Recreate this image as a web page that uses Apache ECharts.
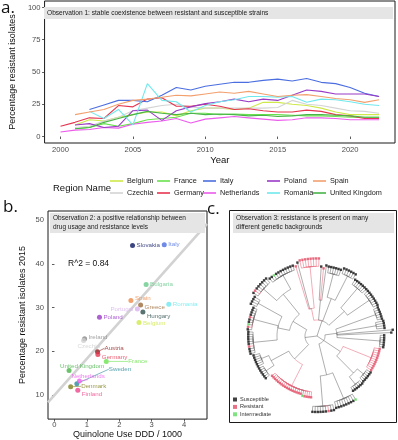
<!DOCTYPE html>
<html>
<head>
<meta charset="utf-8">
<script src="https://cdn.jsdelivr.net/npm/echarts@6/dist/echarts.min.js"></script>
<style>
  html, body { margin: 0; padding: 0; background: #fff; }
  #chart { width: 398px; height: 440px; }
</style>
</head>
<body>
<div id="chart"></div>
<script>
// ---- panel a: resistance over time ----
const years = [2000, 2001, 2002, 2003, 2004, 2005, 2006, 2007, 2008, 2009, 2010, 2011,
               2012, 2013, 2014, 2015, 2016, 2017, 2018, 2019, 2020, 2021, 2022];
const belgium     = [null, 9, 13, 12, 15, 17, 19, 19, 16, 20, 22, 22, 21, 22, 26.5, 26.5, 25, 24, 22, 19, 17, 17, 17];
const czechia     = [null, 7, 8, 12, 15, 20, 22, 24, 25, 23, 22, 22, 22, 22, 22, 22.5, 28, 25, 24, 22, 20, 19.5, 18];
const france      = [null, 6, 7, 10, 8, 10, 13, 14, 15, 18, 18, 17, 17.5, 17, 17, 17, 16.5, 16, 16, 15.5, 15, 15, 15];
const germany     = [8, 11, 14.5, 14, 24, 23, 29, 30, 23.5, 23.5, 25, 23.5, 21, 21.5, 20, 19, 19, 20.5, 19.5, 17, 16, 14, 14];
const italy       = [null, null, 21, 24.5, 28, 28, 27, 32, 38, 36, 39, 40.5, 42, 42, 43.5, 44.5, 43, 45, 42, 41, 38, 33.5, 31];
const netherlands = [3.5, 5, 5.5, 7, 6.5, 9.5, 11, 12, 14, 10.5, 13.5, 14.5, 15.5, 14.5, 13.5, 12.5, 13, 14.5, 14.5, 14, 13, 13, 13];
const poland      = [null, 9, 10, 7, 8, 20, 20.5, 12.5, 20, 23, 25.5, 27, 29, 27, 29, 28, 32, 36, 35, 33, 33, 33, 31];
const romania     = [null, null, 19.5, 14, 21, 9, 41, 28, 27, 19, 24, 27, 28.5, 31, 31, 30.5, 31, 26.5, 29, 28.5, 27, 25, 24];
const spain       = [null, 17, 19, 21, 25, 28, 29, 30.5, 32, 31.5, 33, 34.5, 33.5, 35, 33, 31, 32, 32.5, 31, 29.5, 28.5, 26.5, 28.5];
const unitedKingdom = [null, 6, 7, 11, 14, 17, 19.5, 18, 17, 18, 17, 17.5, 17, 16, 16.5, 15.5, 16, 17, 17, 16.5, 16, 15, 15];
const regionNames = ['Belgium', 'Czechia', 'France', 'Germany', 'Italy', 'Netherlands', 'Poland', 'Romania', 'Spain', 'United Kingdom'];
const regionValues = [belgium, czechia, france, germany, italy, netherlands, poland, romania, spain, unitedKingdom];
const yearTicks = [2000, 2005, 2010, 2015, 2020];
const pctTicks = [0, 25, 50, 75, 100];

// ---- panel b: usage vs resistance 2015 ----
const countriesB  = ['Slovakia', 'Italy', 'Bulgaria', 'Spain', 'Greece', 'Romania', 'Portugal', 'Hungary', 'Poland', 'Belgium',
                     'Ireland', 'Czechia', 'Austria', 'Germany', 'France', 'United Kingdom', 'Sweden', 'Netherlands', 'Denmark', 'Finland'];
const usageB      = [2.41, 3.39, 2.83, 2.36, 2.66, 3.53, 2.56, 2.73, 1.39, 2.61, 0.93, 0.9, 1.33, 1.34, 1.6, 0.45, 0.69, 0.77, 0.5, 0.72];
const resistanceB = [44.2, 44.4, 35.3, 31.6, 30.6, 30.75, 29.7, 29.0, 27.8, 26.6, 22.9, 22.5, 19.9, 19.3, 17.7, 15.6, 12.6, 13.2, 11.9, 11.1];
const usageTicks = [0, 1, 2, 3, 4];
const resTicks = [10, 20, 30, 40, 50];

// ---- panel c: tree, leaves S = susceptible, R = resistant, I = intermediate ----
const treeNewick =
  '(' +
  '((R:5.6,S:6.0,(RRRRRRRR:1.0):5.2):1.5,(S:4.2,R:4.0,S:4.4):2.5,((SSSSSS:0.8):3.0,(SSSSSS:0.7):3.4):3.0,((SSSSSSS:0.7):3.2,(SSSSSSSS:0.6):3.3):2.6):2.0,' +
  '(((SSSSSS:0.6):5.3,(SSSS:1.0):5.0,S:7.0,S:6.8,(SSSSSS:0.5):5.4):1.5,((RRRRRRRRRRR:0.7):3.8,((SSSSSS:0.6):1.0,(SSSSSS:0.5):1.2):3.0):2.5,((ISSSSSSSS:0.8):3.5,(SSRSSSSSS:0.7):3.8):4.0):1.0,' +
  '(((RRRRI:0.7,RRRRRRRRRRRRRRRRR:0.5):3.0,((SSSSSS:0.6):1.2,(SSSSSS:0.8):1.0):2.5):2.5,(((SSSRSSSSSS:0.6):3.0,(SRISSRSSSS:0.5):3.2,(SSSS:0.8):3.4):1.5,((SRSSSSSS:0.7):2.2,(SSISSSSSSSS:0.6):2.0):3.2):2.0):1.5' +
  ');';
const stateNames = { S: 'Susceptible', R: 'Resistant', I: 'Intermediate' };

// ---- styles ----
const FONT = 'Liberation Sans, Arial, sans-serif';
const regionColors = {
  'Belgium': '#cfe94a', 'Czechia': '#d4d4d4', 'France': '#6ae24e', 'Germany': '#e6354f', 'Italy': '#4b6ee0',
  'Netherlands': '#ec5cec', 'Poland': '#9a3bc6', 'Romania': '#70e9ee', 'Spain': '#f2a06e', 'United Kingdom': '#49b449'
};
const countryColors = {
  'Slovakia': '#0b1763', 'Italy': '#4b6ee0', 'Bulgaria': '#66c98a', 'Spain': '#ee8a48', 'Greece': '#9c6a3a',
  'Romania': '#6ee8ee', 'Portugal': '#d8b2ee', 'Hungary': '#2f4f4f', 'Poland': '#9a3bc6', 'Belgium': '#cfe94a',
  'Ireland': '#8a8a8a', 'Czechia': '#d0d0d0', 'Austria': '#8b1c1c', 'Germany': '#e6354f', 'France': '#6ae24e',
  'United Kingdom': '#49b449', 'Sweden': '#2a8a9a', 'Netherlands': '#ec5cec', 'Denmark': '#7f7f1e', 'Finland': '#ee4488'
};
// label shift [dx, dy] from the default right-side position, plus leader line flag
const labelShift = {
  'Spain': [0, -2], 'Greece': [0, 2.5], 'Portugal': [-31, 0], 'Hungary': [0, 4], 'Belgium': [0, 1],
  'Ireland': [0, -1.5], 'Czechia': [-10, 5.5], 'Austria': [3, -3.5, 1], 'Germany': [0, 3], 'France': [18, 0, 1],
  'United Kingdom': [-13, -4.5], 'Sweden': [28, -14.5, 1], 'Netherlands': [-12, -4.5, 1], 'Denmark': [6.5, -0.5, 1], 'Finland': [0, 4]
};
const stateColors = { S: '#111111', R: '#e44d66', I: '#5fdc5f' };
const EDGE_GRAY = '#6b6b6b';
const EDGE_RED = '#e8687c';

// ---- tree parsing / layout ----
function parseNewick(str) {
  let i = 0;
  function readNodes() {
    let nodes;
    if (str[i] === '(') {
      i++;
      const children = [];
      while (true) {
        children.push(...readNodes());
        if (str[i] === ',') { i++; continue; }
        i++; // ')'
        break;
      }
      nodes = [{ children }];
    } else {
      let run = '';
      while (/[SRI]/.test(str[i])) run += str[i++];
      nodes = run.split('').map(s => ({ state: s }));
    }
    let len = 0;
    if (str[i] === ':') {
      i++;
      let num = '';
      while (/[0-9.]/.test(str[i])) num += str[i++];
      len = parseFloat(num);
    }
    nodes.forEach(n => n.len = len);
    return nodes;
  }
  return readNodes()[0];
}

const root = parseNewick(treeNewick);
function countLeaves(n) { return n.children ? n.children.reduce((s, c) => s + countLeaves(c), 0) : 1; }
const leafCount = countLeaves(root);
const step = 360 / leafCount;
let leafIdx = 0;
const edges = [];
const leaves = { S: [], R: [], I: [] };
function layout(n, parentR) {
  n.r = parentR + n.len;
  if (n.children) {
    n.nLeaf = 0; n.nRes = 0;
    n.children.forEach(c => { layout(c, n.r); n.nLeaf += c.nLeaf; n.nRes += c.nRes; });
    n.angle = (n.children[0].angle + n.children[n.children.length - 1].angle) / 2;
  } else {
    n.angle = (leafIdx + 0.5) * step;
    leafIdx++;
    n.nLeaf = 1; n.nRes = n.state === 'R' ? 1 : 0;
    leaves[n.state].push([n.r, n.angle]);
  }
}
layout(root, 0);
function collect(n, parent) {
  if (parent) edges.push([n.r, n.angle, parent.r, parent.angle, n.nRes / n.nLeaf >= 0.75 ? 1 : 0]);
  if (n.children) n.children.forEach(c => collect(c, n));
}
collect(root, null);

function renderEdge(params, api) {
  const r = api.value(0), a = api.value(1), pr = api.value(2), pa = api.value(3);
  const style = { stroke: api.value(4) ? EDGE_RED : EDGE_GRAY, lineWidth: 0.55, fill: null };
  const pts = [];
  const dir = a >= pa ? 1 : -1;
  for (let t = pa; dir * (a - t) > 0; t += dir * 1) pts.push(api.coord([pr, t]));
  pts.push(api.coord([pr, a]));
  pts.push(api.coord([r, a]));
  return { type: 'polyline', shape: { points: pts }, style };
}

// ---- regression for panel b ----
const n = usageB.length;
const mx = usageB.reduce((s, v) => s + v, 0) / n;
const my = resistanceB.reduce((s, v) => s + v, 0) / n;
let sxy = 0, sxx = 0;
usageB.forEach((x, k) => { sxy += (x - mx) * (resistanceB[k] - my); sxx += (x - mx) * (x - mx); });
const slope = sxy / sxx, intercept = my - slope * mx;
const bXMin = -0.2, bXMax = 4.71;

// ---- build series ----
const series = [];
regionNames.forEach((name, k) => {
  series.push({
    name, type: 'line', xAxisIndex: 0, yAxisIndex: 0,
    data: years.map((y, j) => [y, regionValues[k][j]]),
    showSymbol: false, symbol: 'none',
    lineStyle: { color: regionColors[name], width: 1.1 },
    itemStyle: { color: regionColors[name] },
    animation: false
  });
});
series.push({
  type: 'line', xAxisIndex: 1, yAxisIndex: 1, silent: true, symbol: 'none',
  data: [[bXMin, intercept + slope * bXMin], [bXMax, intercept + slope * bXMax]],
  lineStyle: { color: '#d2d2d2', width: 2.6 }, z: 1, animation: false
});
series.push({
  type: 'scatter', xAxisIndex: 1, yAxisIndex: 1, symbolSize: 5, z: 3, animation: false,
  data: countriesB.map((c, k) => {
    const sh = labelShift[c];
    return {
      name: c, value: [usageB[k], resistanceB[k]],
      itemStyle: { color: countryColors[c] },
      label: { color: countryColors[c] },
      labelLine: { show: !!(sh && sh[2]), lineStyle: { color: countryColors[c], width: 0.6 } }
    };
  }),
  label: { show: true, position: 'right', distance: 1.5, formatter: '{b}', fontSize: 6.2, fontFamily: FONT },
  labelLine: { show: false, length2: 0, smooth: false },
  labelLayout: (p) => {
    const sh = labelShift[countriesB[p.dataIndex]] || [0, 0];
    return { dx: sh[0], dy: sh[1], hideOverlap: false, moveOverlap: false };
  }
});
series.push({
  type: 'custom', coordinateSystem: 'polar', renderItem: renderEdge, data: edges,
  encode: { radius: 0, angle: 1 }, silent: true, clip: false, animation: false, z: 1
});
['S', 'R', 'I'].forEach(s => {
  series.push({
    name: stateNames[s], type: 'scatter', coordinateSystem: 'polar', data: leaves[s],
    symbol: 'rect', symbolSize: 2.4, itemStyle: { color: stateColors[s] }, z: 3, animation: false
  });
});

// ---- legends ----
const legendCols = [110, 157, 203, 267, 313];
const legendRows = [177.5, 189.5];
const legends = regionNames.map((name, k) => ({
  data: [name], left: legendCols[Math.floor(k / 2)], top: legendRows[k % 2], padding: 0,
  icon: 'rect', itemWidth: 13, itemHeight: 1.6, selectedMode: false,
  textStyle: { fontSize: 7.3, color: '#1a1a1a', fontFamily: FONT, padding: [0, 0, 0, -1] }
}));
legends.push({
  data: ['Susceptible', 'Resistant', 'Intermediate'], orient: 'vertical', left: 233, top: 396, padding: 0,
  icon: 'rect', itemWidth: 4, itemHeight: 4, itemGap: 0.4, selectedMode: false,
  textStyle: { fontSize: 5.6, color: '#333', fontFamily: FONT, lineHeight: 7, padding: [0, 0, 0, -2] }
});

const axisLabelStyle = { fontSize: 7.6, color: '#4d4d4d', fontFamily: FONT, formatter: v => String(v) };
const nameStyle = { fontSize: 9, color: '#111', fontFamily: FONT };
const tickStyle = { show: true, length: 2.5, lineStyle: { color: '#333', width: 0.8 } };

const chart = echarts.init(document.getElementById('chart'), null, { renderer: 'canvas' });
chart.setOption({
  animation: false,
  textStyle: { fontFamily: FONT },
  grid: [
    { left: 39, top: 1, width: 356, height: 142, show: true, borderColor: '#1a1a1a', borderWidth: 1, backgroundColor: '#fff' },
    { left: 48, top: 211, width: 159, height: 211, show: true, borderColor: '#1a1a1a', borderWidth: 1, backgroundColor: '#fff' }
  ],
  xAxis: [
    { type: 'value', gridIndex: 0, min: 1998.9, max: 2023.1,
      axisLine: { show: false }, splitLine: { show: false },
      axisTick: Object.assign({ customValues: yearTicks }, tickStyle),
      axisLabel: Object.assign({ customValues: yearTicks, margin: 3 }, axisLabelStyle),
      name: 'Year', nameLocation: 'middle', nameGap: 9, nameTextStyle: Object.assign({}, nameStyle, { fontSize: 9.5 }) },
    { type: 'value', gridIndex: 1, min: bXMin, max: bXMax,
      axisLine: { show: false }, splitLine: { show: false },
      axisTick: Object.assign({ customValues: usageTicks }, tickStyle),
      axisLabel: Object.assign({ customValues: usageTicks, margin: 2 }, axisLabelStyle),
      name: 'Quinolone Use DDD / 1000', nameLocation: 'middle', nameGap: 9, nameTextStyle: nameStyle }
  ],
  yAxis: [
    { type: 'value', gridIndex: 0, min: -5, max: 105,
      axisLine: { show: false }, splitLine: { show: false },
      axisTick: Object.assign({ customValues: pctTicks }, tickStyle),
      axisLabel: Object.assign({ customValues: pctTicks, margin: 4 }, axisLabelStyle),
      name: 'Percentage resistant isolates', nameLocation: 'middle', nameGap: 20, nameTextStyle: nameStyle },
    { type: 'value', gridIndex: 1, min: 4.5, max: 52.1,
      axisLine: { show: false }, splitLine: { show: false },
      axisTick: Object.assign({ customValues: resTicks }, tickStyle),
      axisLabel: Object.assign({ customValues: resTicks, margin: 4 }, axisLabelStyle),
      name: 'Percentage resistant isolates 2015', nameLocation: 'middle', nameGap: 21, nameTextStyle: nameStyle }
  ],
  polar: { center: [317, 336], radius: 80 },
  angleAxis: { type: 'value', min: 0, max: 360, startAngle: 108, clockwise: true, show: false },
  radiusAxis: { type: 'value', min: 0, max: 10, show: false },
  legend: legends,
  series,
  graphic: [
    { type: 'text', left: 1, top: 0, style: { text: 'a.', fontSize: 17, fontFamily: 'Open Sans, sans-serif', fill: '#111' } },
    { type: 'text', left: 3, top: 199, style: { text: 'b.', fontSize: 17, fontFamily: 'Open Sans, sans-serif', fill: '#111' } },
    { type: 'text', left: 207, top: 201, style: { text: 'c.', fontSize: 17, fontFamily: 'Open Sans, sans-serif', fill: '#111' } },
    { type: 'rect', shape: { x: 44, y: 7, width: 349, height: 12 }, style: { fill: '#e5e5e5' }, z: 10 },
    { type: 'text', x: 47, y: 13, z: 11, style: { text: 'Observation 1: stable coexistence between resistant and susceptible strains',
      fontSize: 6.6, fontFamily: FONT, fill: '#1a1a1a', verticalAlign: 'middle' } },
    { type: 'rect', shape: { x: 50, y: 213, width: 155, height: 20 }, style: { fill: '#e5e5e5' }, z: 10 },
    { type: 'text', x: 53, y: 223, z: 11, style: { text: 'Observation 2: a positive relationship between\ndrug usage and resistance levels',
      fontSize: 6.5, lineHeight: 9, fontFamily: FONT, fill: '#1a1a1a', verticalAlign: 'middle' } },
    { type: 'text', x: 68, y: 264, z: 11, style: { text: 'R^2 = 0.84', fontSize: 8.5, fontFamily: FONT, fill: '#111', verticalAlign: 'middle' } },
    { type: 'rect', shape: { x: 229.5, y: 210.5, width: 167, height: 212 }, style: { fill: null, stroke: '#1a1a1a', lineWidth: 1 } },
    { type: 'rect', shape: { x: 233, y: 213, width: 161, height: 20 }, style: { fill: '#e5e5e5' }, z: 10 },
    { type: 'text', x: 236, y: 223, z: 11, style: { text: 'Observation 3: resistance is present on many\ndifferent genetic backgrounds',
      fontSize: 6.6, lineHeight: 9, fontFamily: FONT, fill: '#1a1a1a', verticalAlign: 'middle' } },
    { type: 'text', x: 53, y: 188, style: { text: 'Region Name', fontSize: 9.5, fontFamily: FONT, fill: '#111', verticalAlign: 'middle' } }
  ]
});
</script>
</body>
</html>
